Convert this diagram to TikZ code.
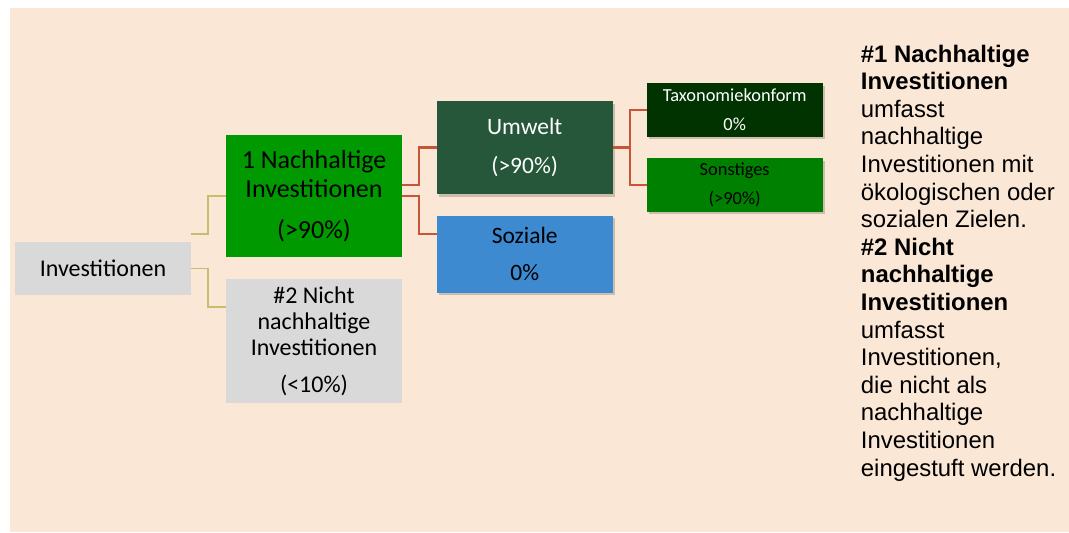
\documentclass[tikz,border=0pt]{standalone}
\usepackage{fontspec}
\setmainfont{Carlito}
\newfontfamily\arialf{Liberation Sans}
\usetikzlibrary{shadows}
\definecolor{bgc}{RGB}{250,231,214}
\definecolor{grayc}{RGB}{217,217,217}
\definecolor{greenA}{RGB}{0,153,0}
\definecolor{umwc}{RGB}{38,87,58}
\definecolor{sozc}{RGB}{62,138,208}
\definecolor{taxc}{RGB}{0,51,0}
\definecolor{sonc}{RGB}{0,128,0}
\definecolor{redl}{RGB}{200,85,55}
\definecolor{olivel}{RGB}{200,188,110}
\tikzset{
  box/.style={rectangle, inner sep=0pt, minimum width=176pt, align=center, text=black},
  shad/.style={drop shadow={shadow xshift=2pt, shadow yshift=-2.5pt, fill=black, opacity=0.18}},
  redline/.style={draw=redl, line width=2.2pt},
  oliveline/.style={draw=olivel, line width=1.5pt},
}
\begin{document}
\begin{tikzpicture}[x=1pt,y=-1pt]
\useasboundingbox (0,0) rectangle (1069,533);
\fill[bgc] (10,8) rectangle (1069,532);

\node[box, fill=grayc, minimum height=53pt, font=\fontsize{24}{28}\selectfont] (inv) at (103,268.5) {Investitionen};
\node[box, fill=greenA, minimum height=122pt, font=\fontsize{26}{29}\selectfont] (n1) at (314,196) {1 Nachhaltige\\Investitionen\\[12pt](>90\%)};
\node[box, fill=grayc, minimum height=124pt, font=\fontsize{24}{26}\selectfont] (n2) at (314,341) {\#2 Nicht\\nachhaltige\\Investitionen\\[11pt](<10\%)};
\node[box, shad, fill=umwc, text=white, minimum height=93pt, font=\fontsize{23.5}{28}\selectfont] (umw) at (524.7,147.5) {Umwelt\\[10.3pt](>90\%)};
\node[box, shad, fill=sozc, minimum height=77pt, font=\fontsize{23.5}{28}\selectfont] (soz) at (524.7,254.3) {Soziale\\[9pt]0\%};
\node[box, shad, fill=taxc, text=white, minimum height=53.3pt, font=\fontsize{18.4}{22}\selectfont] (tax) at (734.7,110) {Taxonomiekonform\\[6.7pt]0\%};
\node[box, shad, fill=sonc, minimum height=53.3pt, font=\fontsize{18.4}{22}\selectfont] (son) at (734.7,185) {Sonstiges\\[7pt](>90\%)};

\draw[oliveline] ([yshift=34.5pt]inv.east) -- ++(17,0) |- (n1.west);
\draw[oliveline] (inv.east) -- ++(17,0) |- ([yshift=34pt]n2.west);
\draw[redline] ([yshift=11pt]n1.east) -- ++(17,0) |- (umw.west);
\draw[redline] (n1.east) -- ++(17,0) |- ([yshift=20pt]soz.west);
\draw[redline] (umw.east) -- ++(17,0) |- (tax.west);
\draw[redline] (umw.east) -- ++(17,0) |- (son.west);

\node[anchor=north west, inner sep=0pt, align=left, font=\arialf\fontsize{23.9}{27.6}\selectfont] (txt) at (860.7,44.6)
{\textbf{\#1 Nachhaltige}\\\textbf{Investitionen}\\umfasst\\nachhaltige\\Investitionen mit\\ökologischen oder\\sozialen Zielen.\\\textbf{\#2 Nicht}\\\textbf{nachhaltige}\\\textbf{Investitionen}\\umfasst\\Investitionen,\\die nicht als\\nachhaltige\\Investitionen\\eingestuft werden.};
\end{tikzpicture}
\end{document}
